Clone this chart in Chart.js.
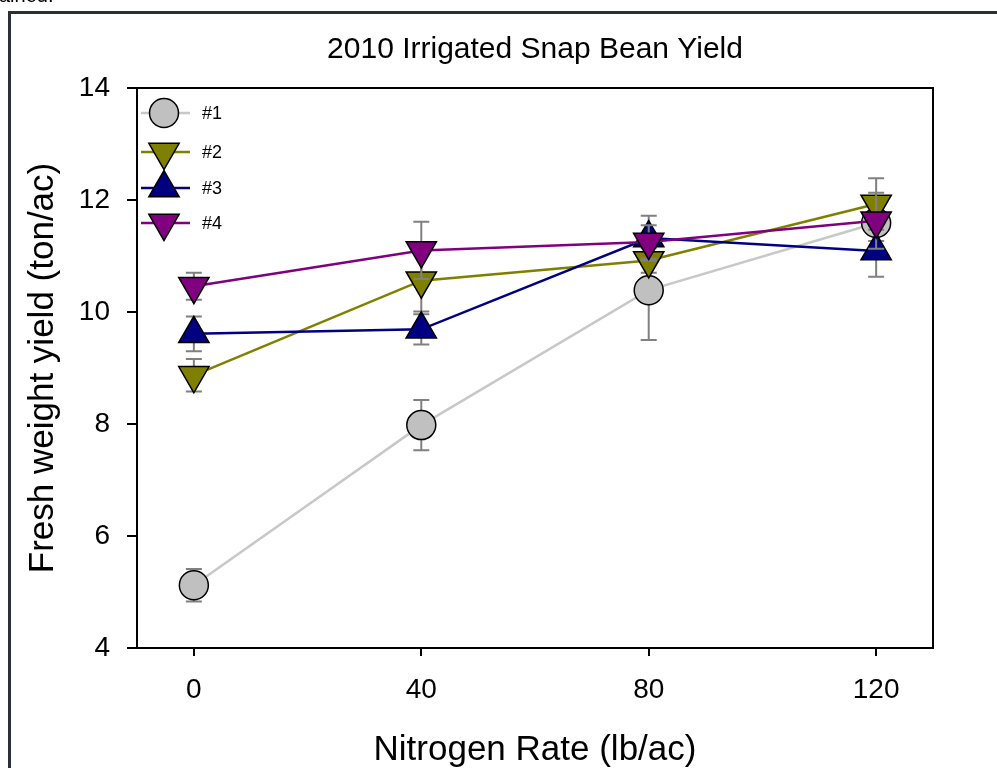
<!DOCTYPE html>
<html>
<head>
<meta charset="utf-8">
<script src="https://cdn.jsdelivr.net/npm/chart.js@4.4.1/dist/chart.umd.min.js"></script>
<style>
html, body { margin: 0; padding: 0; background: #fff; }
#wrap { position: relative; width: 997px; height: 768px; overflow: hidden; }
#frame { position: absolute; left: 8px; top: 11px; width: 1100px; height: 900px;
  border-left: 3px solid #2b2f36; border-top: 3px solid #2b2f36; }
#cut { position: absolute; left: -1px; top: -16px; font: 20px "Liberation Sans", Arial, sans-serif; color: #000; }
canvas { position: absolute; left: 0; top: 0; }
</style>
</head>
<body>
<div id="wrap">
  <div id="frame"></div>
  <canvas id="yieldChart" width="997" height="768"></canvas>
  <div id="cut">ained.</div>
</div>
<script>
//chart data
var chartTitle = '2010 Irrigated Snap Bean Yield';
var nitrogenRate = [0, 40, 80, 120];
var xTicks = [0, 40, 80, 120];
var yTicks = [4, 6, 8, 10, 12, 14];
var seriesNames = ['#1', '#2', '#3', '#4'];

var yield1 = [5.12, 7.98, 10.39, 11.59];
var yield2 = [8.87, 10.56, 10.92, 11.93];
var yield3 = [9.61, 9.69, 11.32, 11.09];
var yield4 = [10.46, 11.10, 11.25, 11.63];

var err1 = [0.29, 0.45, 0.89, 0.32];
var err2 = [0.29, 0.55, 0.22, 0.46];
var err3 = [0.31, 0.27, 0.40, 0.46];
var err4 = [0.24, 0.51, 0.30, 0.50];

var FONT = '"Liberation Sans", Arial, sans-serif';

//build point list for a series
function toPoints(values){
  var pts = [];
  for(var i = 0; i < nitrogenRate.length; i++){
    pts.push({x: nitrogenRate[i], y: values[i]});
  }
  return pts;
}

var styles = [
  {line: '#c8c8c8', fill: '#c0c0c0', shape: 'circle', radius: 14.5, rotation: 0},
  {line: '#808000', fill: '#808000', shape: 'triangle', radius: 17.5, rotation: 180},
  {line: '#000080', fill: '#000080', shape: 'triangle', radius: 17.5, rotation: 0},
  {line: '#800080', fill: '#800080', shape: 'triangle', radius: 17.5, rotation: 180}
];
var allYields = [yield1, yield2, yield3, yield4];
var allErrors = [err1, err2, err3, err4];

var datasets = [];
for(var s = 0; s < 4; s++){
  datasets.push({
    label: seriesNames[s],
    data: toPoints(allYields[s]),
    errors: allErrors[s],
    borderColor: styles[s].line,
    borderWidth: 2.5,
    backgroundColor: styles[s].fill,
    pointStyle: styles[s].shape,
    pointRadius: styles[s].radius,
    pointRotation: styles[s].rotation,
    pointBackgroundColor: styles[s].fill,
    pointBorderColor: '#000',
    pointBorderWidth: 1.5,
    pointHoverRadius: styles[s].radius,
    tension: 0,
    order: 4 - s
  });
}

//error bars, drawn just before each series so later series cover them
var errorBars = {
  id: 'errorBars',
  beforeDatasetDraw: function(chart, args){
    var ds = chart.data.datasets[args.index];
    var ctx = chart.ctx;
    var xs = chart.scales.x, ys = chart.scales.y;
    ctx.save();
    ctx.strokeStyle = '#808080';
    ctx.lineWidth = 2;
    for(var i = 0; i < ds.data.length; i++){
      var px = xs.getPixelForValue(ds.data[i].x);
      var top = ys.getPixelForValue(ds.data[i].y + ds.errors[i]);
      var bot = ys.getPixelForValue(ds.data[i].y - ds.errors[i]);
      ctx.beginPath();
      ctx.moveTo(px, top); ctx.lineTo(px, bot);
      ctx.moveTo(px - 8, top); ctx.lineTo(px + 8, top);
      ctx.moveTo(px - 8, bot); ctx.lineTo(px + 8, bot);
      ctx.stroke();
    }
    ctx.restore();
  }
};

//box round the plot area, the title over it and the legend in its top-left corner
var frameAndLegend = {
  id: 'frameAndLegend',
  afterDraw: function(chart){
    var ctx = chart.ctx;
    var a = chart.chartArea;
    ctx.save();
    ctx.strokeStyle = '#000';
    ctx.lineWidth = 2;
    ctx.beginPath();
    ctx.moveTo(a.left, a.top); ctx.lineTo(a.right, a.top); ctx.lineTo(a.right, a.bottom);
    ctx.stroke();

    ctx.fillStyle = '#000';
    ctx.font = '30px ' + FONT;
    ctx.textAlign = 'center';
    ctx.textBaseline = 'middle';
    ctx.fillText(chartTitle, (a.left + a.right) / 2, 50);

    var rows = [113, 152, 188, 223];
    for(var i = 0; i < 4; i++){
      var y = rows[i];
      ctx.strokeStyle = styles[i].line;
      ctx.lineWidth = 2.5;
      ctx.beginPath();
      ctx.moveTo(141, y); ctx.lineTo(190, y);
      ctx.stroke();
      ctx.fillStyle = styles[i].fill;
      ctx.strokeStyle = '#000';
      ctx.lineWidth = 1.5;
      Chart.helpers.drawPoint(ctx, {
        pointStyle: styles[i].shape,
        radius: styles[i].radius,
        rotation: styles[i].rotation,
        borderWidth: 1.5
      }, 164, y);
      ctx.fillStyle = '#000';
      ctx.font = '18px ' + FONT;
      ctx.textBaseline = 'middle';
      ctx.textAlign = 'left';
      ctx.fillText(seriesNames[i], 202, y + 1);
    }
    ctx.restore();
  }
};

var config = {
  type: 'line',
  data: {datasets: datasets},
  options: {
    responsive: false,
    animation: false,
    layout: {padding: {left: 0, right: 64, top: 88, bottom: 0}},
    plugins: {
      legend: {display: false},
      tooltip: {enabled: false},
      title: {display: false}
    },
    scales: {
      x: {
        type: 'linear',
        min: -10,
        max: 130,
        afterBuildTicks: function(axis){ axis.ticks = xTicks.map(function(v){ return {value: v}; }); },
        afterFit: function(scale){ scale.height = 120; },
        grid: {drawOnChartArea: false, drawTicks: true, tickLength: 8, color: '#000', lineWidth: 2},
        border: {display: true, color: '#000', width: 2},
        ticks: {color: '#000', padding: 17, font: {family: FONT, size: 28}},
        title: {
          display: true,
          text: 'Nitrogen Rate (lb/ac)',
          color: '#000',
          font: {family: FONT, size: 35, lineHeight: 1},
          padding: {top: 0, bottom: 0}
        }
      },
      y: {
        type: 'linear',
        min: 4,
        max: 14,
        afterBuildTicks: function(axis){ axis.ticks = yTicks.map(function(v){ return {value: v}; }); },
        afterFit: function(scale){ scale.width = 137; },
        grid: {drawOnChartArea: false, drawTicks: true, tickLength: 10, color: '#000', lineWidth: 2},
        border: {display: true, color: '#000', width: 2},
        ticks: {color: '#000', padding: 17, font: {family: FONT, size: 28}},
        title: {
          display: true,
          text: 'Fresh weight yield (ton/ac)',
          color: '#000',
          font: {family: FONT, size: 35},
          padding: {top: 22, bottom: 0}
        }
      }
    }
  },
  plugins: [errorBars, frameAndLegend]
};

var yieldChart = new Chart(document.getElementById('yieldChart'), config);
</script>
</body>
</html>
